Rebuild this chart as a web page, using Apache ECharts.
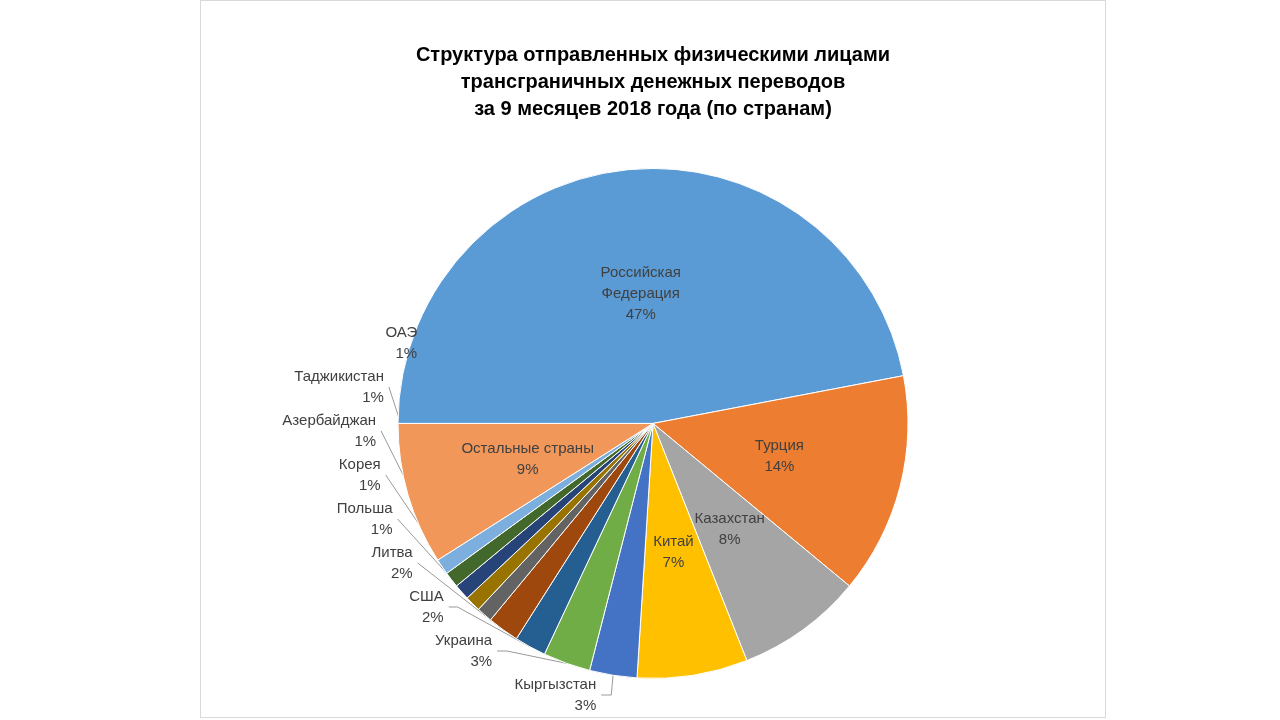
<!DOCTYPE html>
<html>
<head>
<meta charset="utf-8">
<script src="https://cdn.jsdelivr.net/npm/echarts@6/dist/echarts.min.js"></script>
<style>
body{margin:0;background:#fff;}
#main{position:absolute;left:200px;top:0;width:904px;height:716px;border:1px solid #d9d9d9;}
</style>
</head>
<body>
<div id="main"></div>
<script>
var countries = ['Российская\nФедерация','Турция','Казахстан','Китай','Кыргызстан','Украина','США','Литва','Польша','Корея','Азербайджан','Таджикистан','ОАЭ','Остальные страны'];
var shares = [47,14,8,7,3,3,2,2,1,1,1,1,1,9];
var colors = ['#5b9bd5','#ed7d31','#a5a5a5','#ffc000','#4472c4','#70ad47','#255e91','#9e480e','#636363','#997300','#264478','#43682b','#7cafdd','#f1975a'];

var chart = echarts.init(document.getElementById('main'));
var items = [];
for (var i = 0; i < countries.length; i++) {
  var big = shares[i] >= 7;
  items.push({
    name: countries[i],
    value: shares[i],
    itemStyle: {color: colors[i]},
    label: {position: big ? 'inside' : 'outside'},
    labelLine: {show: !big}
  });
}
chart.setOption({
  title: {
    text: 'Структура отправленных физическими лицами\nтрансграничных денежных переводов\nза 9 месяцев 2018 года (по странам)',
    left: 'center', top: 36,
    textStyle: {fontFamily: 'Liberation Sans', fontSize: 20, fontWeight: 'bold', color: '#000', lineHeight: 27}
  },
  series: [{
    type: 'pie',
    center: ['50%', '59%'],
    radius: 255,
    startAngle: 180,
    clockwise: true,
    data: items,
    labelLayout: {hideOverlap: false},
    label: {
      formatter: '{b}\n{c}%',
      fontFamily: 'Liberation Sans', fontSize: 15, color: '#404040', lineHeight: 21
    },
    labelLine: {length: 12, length2: 10, lineStyle: {color: '#999'}},
    itemStyle: {borderColor: '#fff', borderWidth: 1}
  }]
});
</script>
</body>
</html>
